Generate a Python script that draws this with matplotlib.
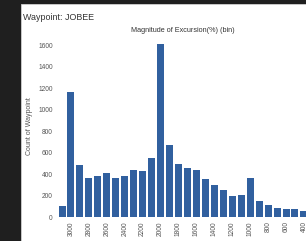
import matplotlib
matplotlib.use('Agg')
import matplotlib.pyplot as plt
from matplotlib.patches import Rectangle

# Excursion bins (descending) and counts
bins = [3100, 3000, 2900, 2800, 2700, 2600, 2500, 2400, 2300, 2200,
        2100, 2000, 1900, 1800, 1700, 1600, 1500, 1400, 1300, 1200,
        1100, 1000, 900, 800, 700, 600, 500, 400]
counts = [100, 1160, 480, 360, 378, 405, 365, 385, 435, 430,
          545, 1610, 670, 490, 460, 440, 355, 295, 250, 195,
          205, 365, 145, 110, 85, 70, 70, 60]
yticks = [0, 200, 400, 600, 800, 1000, 1200, 1400, 1600]

bar_color = '#31609f'

fig = plt.figure(figsize=(3.06, 2.41), dpi=100)
fig.patch.set_facecolor('#1f1f1f')

# white report panel behind the chart
panel = Rectangle((21 / 306, 0), 1 - 21 / 306, 1 - 4 / 241,
                  transform=fig.transFigure, facecolor='white',
                  edgecolor='#d0d0d0', linewidth=0.6, zorder=-5)
fig.patches.append(panel)

fig.text(23 / 306, 1 - 17 / 241, 'Waypoint: JOBEE', fontsize=6.4,
         color='#333333', va='center', ha='left', family='Liberation Sans')

ax = fig.add_axes([57 / 306, 24 / 241, 1 - 57 / 306, 0.758])
ax.set_zorder(2)
ax.set_facecolor('white')
x = list(range(len(bins)))
ax.bar(x, counts, width=0.78, color=bar_color)
ax.set_xlim(-0.56, 27.23)
ax.set_ylim(0, 1700)

ax.set_yticks(yticks)
ax.set_yticklabels([str(v) for v in yticks], fontsize=4.8, color='#555555',
                   family='Liberation Sans')
ax.set_xticks(x[1::2])
ax.set_xticklabels([str(b) for b in bins[1::2]], rotation=90, fontsize=4.8,
                   color='#555555', family='Liberation Sans')
ax.tick_params(length=0, pad=3)
for s in ax.spines.values():
    s.set_visible(False)

ax.set_ylabel('Count of Waypoint', fontsize=5.0, color='#555555',
              family='Liberation Sans', labelpad=4)
ax.set_title('Magnitude of Excursion(%) (bin)', fontsize=5.2,
             color='#333333', family='Liberation Sans', pad=1,
             x=(183 - 57) / (306 - 57))

fig.savefig('out.png', dpi=100, facecolor=fig.get_facecolor())
